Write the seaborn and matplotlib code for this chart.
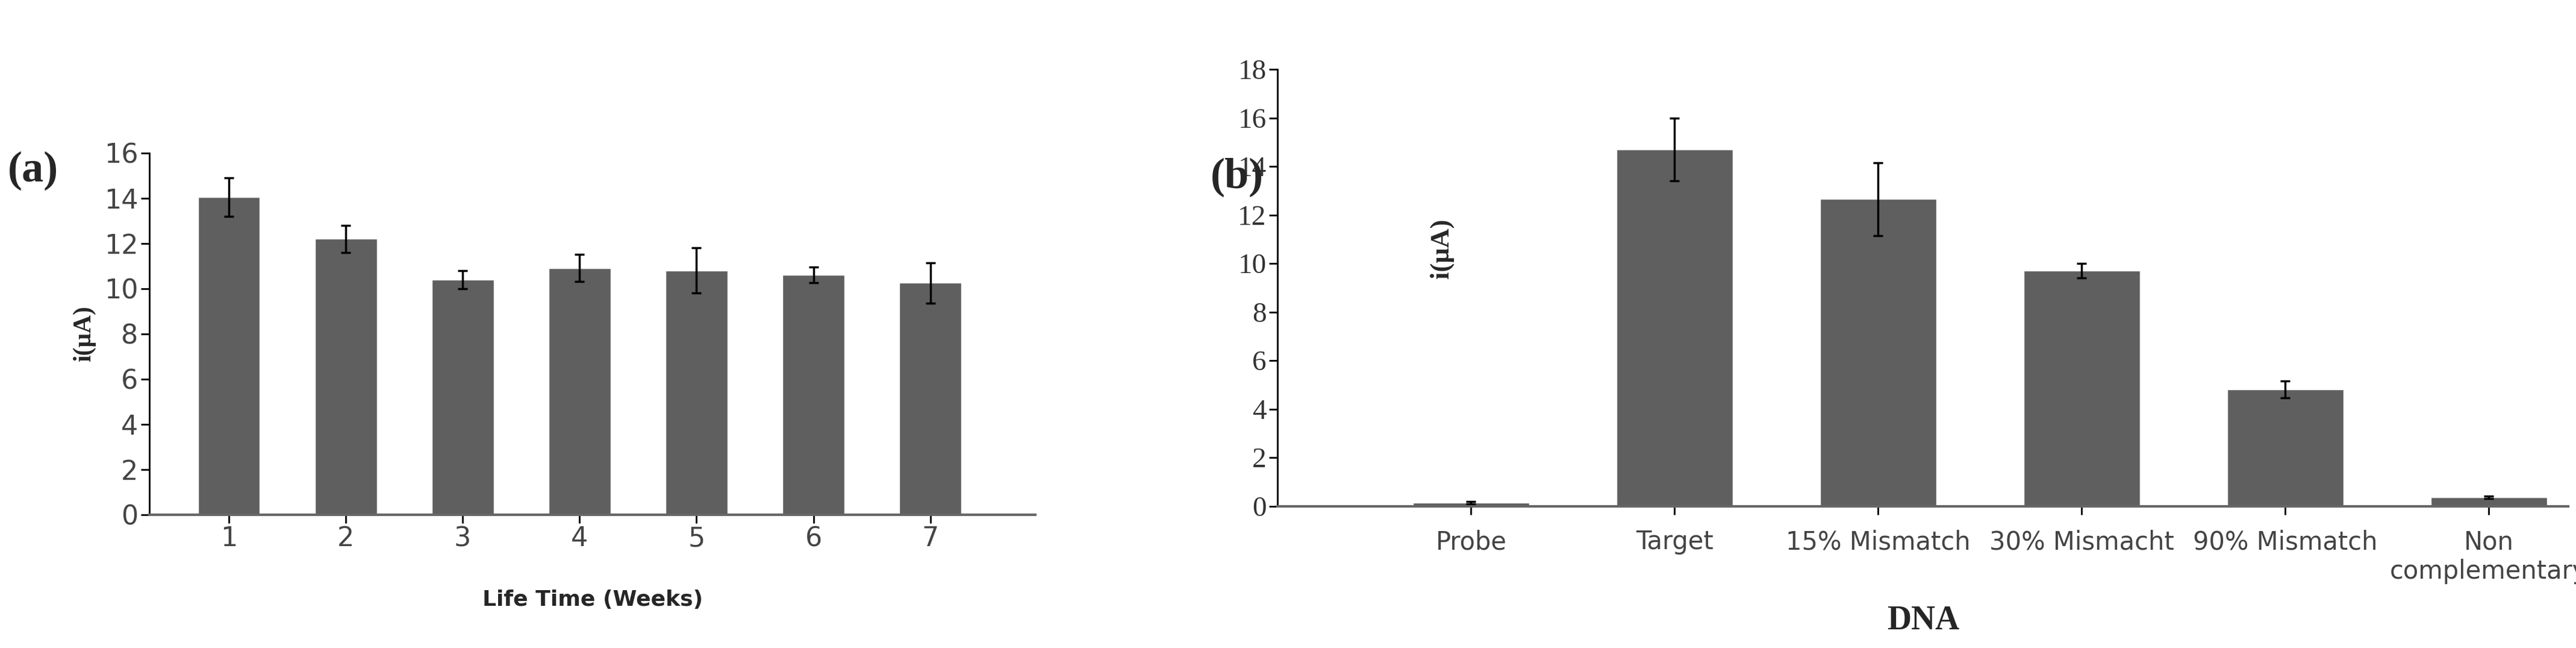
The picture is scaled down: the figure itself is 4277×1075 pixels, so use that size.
import matplotlib
matplotlib.use("Agg")
import matplotlib.pyplot as plt
import pandas as pd
import seaborn as sns

weeks = ["1", "2", "3", "4", "5", "6", "7"]
life_current = [14.05, 12.2, 10.4, 10.9, 10.8, 10.6, 10.25]
life_err = [0.85, 0.6, 0.4, 0.6, 1.0, 0.35, 0.9]

dna_types = ["Probe", "Target", "15% Mismatch", "30% Mismacht", "90% Mismatch", "Non\ncomplementary"]
dna_current = [0.15, 14.7, 12.65, 9.7, 4.8, 0.35]
dna_err = [0.05, 1.3, 1.5, 0.3, 0.35, 0.05]

BAR = "#5f5f5f"

sns.set_theme(style="white")
plt.rcParams["font.family"] = ["DejaVu Sans"]

fig = plt.figure(figsize=(42.77, 10.75), dpi=100)
ax1 = fig.add_axes([0.058, 0.206, 0.344, 0.558])
ax2 = fig.add_axes([0.496, 0.219, 0.501, 0.674])


def draw(ax, cats, vals, errs, width, xlim):
    df = pd.DataFrame({"cat": cats, "val": vals})
    sns.barplot(data=df, x="cat", y="val", color=BAR, width=width, saturation=1,
                errorbar=None, ax=ax)
    ax.errorbar(range(len(cats)), vals, yerr=errs, fmt="none", ecolor="black",
                elinewidth=2.5, capsize=6, capthick=2.5)
    for s in ["top", "right"]:
        ax.spines[s].set_visible(False)
    ax.spines["left"].set_color("black")
    ax.spines["bottom"].set_color("#666666")
    ax.spines["left"].set_linewidth(2)
    ax.spines["bottom"].set_linewidth(3)
    ax.tick_params(axis="both", direction="out", length=10, width=2, colors="black",
                   left=True, bottom=True)
    ax.set_xlim(*xlim)


draw(ax1, weeks, life_current, life_err, 0.53, (-0.68, 6.9))
ax1.set_ylim(0, 16)
ax1.set_yticks(range(0, 17, 2))
ax1.tick_params(labelsize=32, labelcolor="#444444")
ax1.set_xlabel("Life Time (Weeks)", fontsize=26, fontweight="bold", labelpad=45)
ax1.set_ylabel("i(μA)", fontsize=30, fontweight="bold", family="Liberation Serif", labelpad=10)
fig.text(0.003, 0.72, "(a)", fontsize=52, fontweight="bold", family="Liberation Serif")

draw(ax2, dna_types, dna_current, dna_err, 0.57, (-0.95, 5.39))
ax2.set_ylim(0, 18)
ax2.set_yticks(range(0, 19, 2))
for lab in ax2.get_yticklabels():
    lab.set_family("Liberation Serif")
ax2.tick_params(axis="y", labelsize=34, labelcolor="#333333")
ax2.tick_params(axis="x", labelsize=30, labelcolor="#444444", pad=18)
ax2.set_xlabel("DNA", fontsize=40, fontweight="bold", family="Liberation Serif", labelpad=25)
ax2.set_ylabel("")
ax2.text(0.127, 0.59, "i(μA)", transform=ax2.transAxes, rotation=90, fontsize=32,
         fontweight="bold", family="Liberation Serif", ha="center", va="center")
fig.text(0.47, 0.71, "(b)", fontsize=52, fontweight="bold", family="Liberation Serif")

fig.savefig("out.png", dpi=100)
